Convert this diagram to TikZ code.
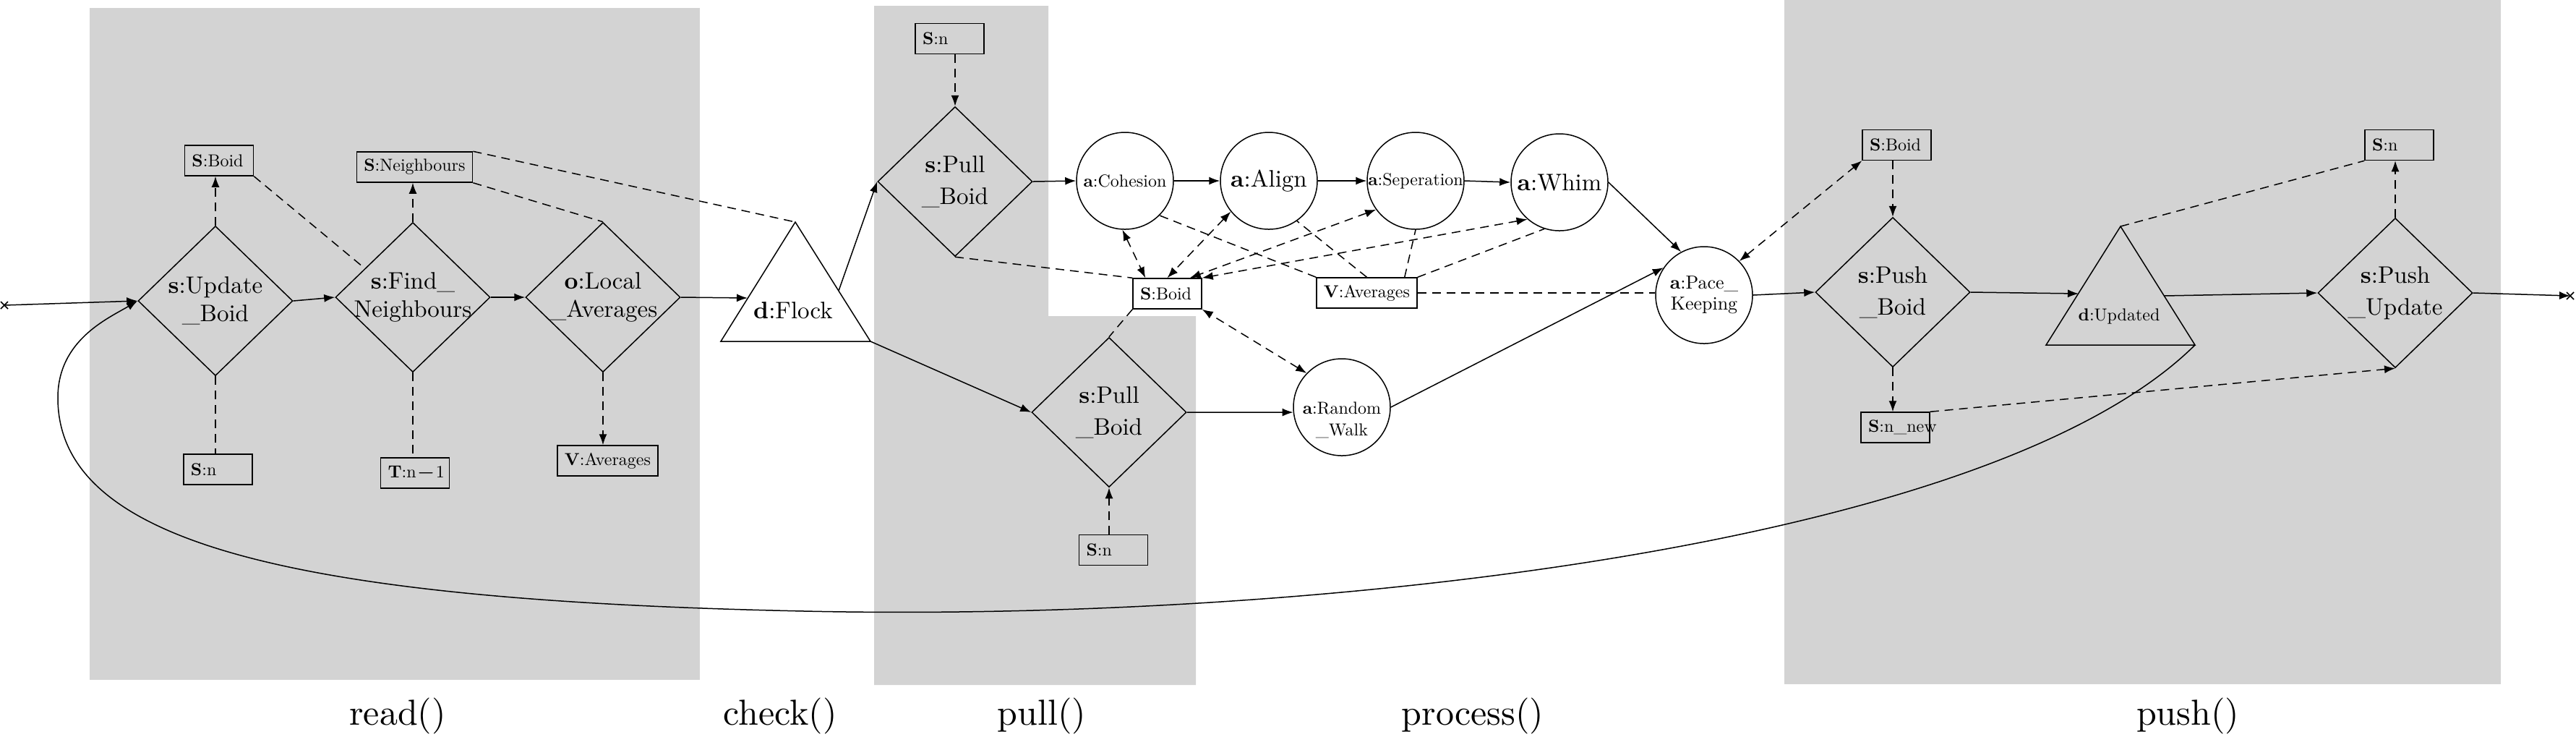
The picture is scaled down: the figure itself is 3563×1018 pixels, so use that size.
\documentclass[tikz,border=0pt]{standalone}
\usepackage{fontspec}
\setmainfont{lmroman10}[Extension=.otf,UprightFont=*-regular,BoldFont=*-bold,ItalicFont=*-italic,BoldItalicFont=*-bolditalic]
\usetikzlibrary{shapes.geometric,arrows.meta}
\definecolor{bggray}{RGB}{211,211,211}
\newcommand\myBig{\fontsize{6.6pt}{7.8pt}\selectfont}
\newcommand\myBigW{\fontsize{6.6pt}{8.8pt}\selectfont}
\newcommand\mySmall{\fontsize{4.8pt}{6pt}\selectfont}
\newcommand\myMid{\fontsize{5.2pt}{5.8pt}\selectfont}
\newcommand\myLab{\fontsize{10pt}{12pt}\selectfont}
\tikzset{
  ltx/.tip={Latex[length=3pt,width=2.2pt]},
  ln/.style={line width=0.3pt},
  dsh/.style={dash pattern=on 2.4pt off 1.6pt},
  arr/.style={ln,-ltx},
  darr/.style={ln,dsh,-ltx},
  dbl/.style={ln,dsh,ltx-ltx},
  dln/.style={ln,dsh},
  dia/.style={draw,ln,diamond,aspect=1,inner sep=0pt,minimum width=42.8pt,minimum height=41.4pt},
  circ/.style={draw,ln,circle,inner sep=0pt,minimum size=26.8pt},
  box/.style={draw,ln,rectangle,font=\mySmall,inner xsep=2pt,inner ysep=0pt,minimum height=8.4pt},
  sbox/.style={box,text width=15pt,align=left},
  caplbl/.style={font=\myLab,anchor=base}
}
\begin{document}
\begin{tikzpicture}[x=0.2pt,y=-0.2pt]
\useasboundingbox (0,0) rectangle (3563,1018);
% backgrounds
\fill[bggray] (124,11) rectangle (968,940);
\fill[bggray] (1209,8) -- (1450,8) -- (1450,437) -- (1654,437) -- (1654,947) -- (1209,947) -- cycle;
\fill[bggray] (2468,0) rectangle (3459,946);

% ---------- read ----------
\coordinate (startx) at (6,422);
\node[dia,label={[font=\myBig,align=center]center:{\textbf{s}:Update\\\_Boid}}] (supd) at (298,416) {};
\node[sbox] (sbR) at (303,222) {\textbf{S}:Boid};
\node[sbox] (snR) at (301.5,649) {\textbf{S}:n};
\node[dia,label={[font=\myBig,align=center]center:{\textbf{s}:Find\_\\Neighbours}}] (find) at (571,411) {};
\node[box] (sneigh) at (573.5,231) {\textbf{S}:Neighbours};
\node[sbox] (tn) at (574,654) {\textbf{T}:n$-$1};
\node[dia,label={[font=\myBig,align=center]center:{\textbf{o}:Local\\\_Averages}}] (loc) at (834,411) {};
\node[box] (vavR) at (840.5,637) {\textbf{V}:Averages};

% ---------- check ----------
\coordinate (flN) at (1100,307);
\coordinate (flSW) at (997,472);
\coordinate (flSE) at (1204,472);
\coordinate (flW) at (1034,412);
\coordinate (flE) at (1160,402);
\draw[ln] (flN) -- (flSW) -- (flSE) -- cycle;
\node[font=\myBig,anchor=base] (flock) at (1097,440) {\textbf{d}:Flock};

% ---------- pull / process ----------
\node[sbox] (snP1) at (1313.5,53.5) {\textbf{S}:n};
\node[dia,label={[font=\myBigW,align=center]center:{\textbf{s}:Pull\\\_Boid}}] (pull1) at (1321,251) {};
\node[circ,label={[font=\mySmall]center:{\textbf{a}:Cohesion}}] (coh) at (1556,250) {};
\node[circ,label={[font=\myBig]center:{\textbf{a}:Align}}] (ali) at (1755,250) {};
\node[circ,label={[font=\mySmall]center:{\textbf{a}:Seperation}}] (sep) at (1958,250) {};
\node[circ,label={[font=\myBig]center:{\textbf{a}:Whim}}] (whim) at (2157,252) {};
\node[circ,label={[font=\myMid,align=center]center:{\textbf{a}:Pace\_\\Keeping}}] (pace) at (2357,408) {};
\node[circ,label={[font=\mySmall,align=center,yshift=-3.5pt]center:{\textbf{a}:Random\\\_Walk}}] (rw) at (1856,563) {};
\node[sbox] (sbP) at (1614.5,406) {\textbf{S}:Boid};
\node[box] (vavP) at (1890.5,405) {\textbf{V}:Averages};
\node[dia,label={[font=\myBigW,align=center]center:{\textbf{s}:Pull\\\_Boid}}] (pull2) at (1534,570) {};
\node[sbox] (snP2) at (1540,760.5) {\textbf{S}:n};

% ---------- push ----------
\node[sbox] (sbU) at (2623.5,200.5) {\textbf{S}:Boid};
\node[dia,label={[font=\myBigW,align=center]center:{\textbf{s}:Push\\\_Boid}}] (pushb) at (2618,404) {};
\node[sbox] (snnew) at (2621.5,591) {\textbf{S}:n\_new};
\coordinate (upN) at (2933,313);
\coordinate (upSW) at (2830,477);
\coordinate (upSE) at (3036,477);
\coordinate (upW) at (2875,406);
\coordinate (upE) at (2993,409);
\draw[ln] (upN) -- (upSW) -- (upSE) -- cycle;
\node[font=\mySmall,anchor=base] (updl) at (2931,443) {\textbf{d}:Updated};
\node[dia,label={[font=\myBigW,align=center]center:{\textbf{s}:Push\\\_Update}}] (pushu) at (3313,405) {};
\node[sbox] (snU) at (3318.5,200.5) {\textbf{S}:n};
\coordinate (endx) at (3555,409);

% captions
\node[caplbl] (lread) at (550,1002) {read()};
\node[caplbl] (lcheck) at (1079,1002) {check()};
\node[caplbl] (lpull) at (1441,1002) {pull()};
\node[caplbl] (lproc) at (2037,1002) {process()};
\node[caplbl] (lpush) at (3026,1002) {push()};

% ---------- connectors: read ----------
\draw[ln] (startx) ++(-5,-5) -- ++(10,10) (startx) ++(-5,5) -- ++(10,-10);
\draw[arr] (startx) -- (supd.west);
\draw[arr] (supd.east) -- (find.west);
\draw[arr] (find.east) -- (loc.west);
\draw[arr] (loc.east) -- (flW);
\draw[darr] (supd.north) -- (supd.north |- sbR.south);
\draw[dln] (supd.south) -- (supd.south |- snR.north);
\draw[darr] (find.north) -- (find.north |- sneigh.south);
\draw[dln] (find.south) -- (find.south |- tn.north);
\draw[darr] (loc.south) -- (loc.south |- vavR.north);
\draw[dln] (sbR.south east) -- (find.149);
\draw[dln] (sneigh.south east) -- (loc.north);
\draw[dln] (sneigh.north east) -- (flN);

% ---------- connectors: pull / process ----------
\draw[arr] (flE) -- (pull1.west);
\draw[arr] (flSE) -- (pull2.west);
\draw[darr] (pull1.north |- snP1.south) -- (pull1.north);
\draw[arr] (pull1.east) -- (coh.west);
\draw[arr] (coh.east) -- (ali.west);
\draw[arr] (ali.east) -- (sep.west);
\draw[arr] (sep.east) -- (whim.west);
\draw[arr] (whim.east) -- (pace.118);
\draw[arr] (rw.east) -- (pace.146);
\draw[arr] (pull2.east) -- (rw.186);
\draw[darr] (pull2.south |- snP2.north) -- (pull2.south);
\draw[dln] (pull1.south) -- (sbP.north west);
\draw[dln] (sbP.south west) -- (pull2.north);
\draw[dbl] (coh.267) -- ([xshift=3.6pt]sbP.north west);
\draw[dbl] (ali.219) -- (sbP.north);
\draw[dbl] (sep.216) -- ([xshift=-3.4pt]sbP.north east);
\draw[dbl] (whim.229) -- (sbP.north east);
\draw[dbl] (rw.136) -- (sbP.south east);
\draw[dln] (vavP.north west) -- (coh.south east);
\draw[dln] (vavP.north) -- (ali.305);
\draw[dln] ([xshift=-3.6pt]vavP.north east) -- (sep.south);
\draw[dln] (vavP.north east) -- (whim.252);
\draw[dln] (vavP.east) -- (vavP.east -| pace.west);
\draw[arr] (pace.east) -- (pushb.west);
\draw[dbl] (pace.44) -- (sbU.south west);

% ---------- connectors: push ----------
\draw[darr] (pushb.north |- sbU.south) -- (pushb.north);
\draw[darr] (pushb.south) -- (pushb.south |- snnew.north);
\draw[arr] (pushb.east) -- (upW);
\draw[arr] (upE) -- (pushu.west);
\draw[darr] (pushu.north) -- (pushu.north |- snU.south);
\draw[dln] (upN) -- (snU.south west);
\draw[darr] (snnew.north east) -- (pushu.south);
\draw[arr] (pushu.east) -- (endx);
\draw[ln] (endx) ++(-5,-5) -- ++(10,10) (endx) ++(-5,5) -- ++(10,-10);

% loop back
\draw[arr] (upSE) .. controls (2750,760) and (1800,860) .. (1113,845)
  .. controls (400,830) and (80,750) .. (80,550)
  .. controls (80,470) and (150,440) .. (supd.west);
\end{tikzpicture}
\end{document}
